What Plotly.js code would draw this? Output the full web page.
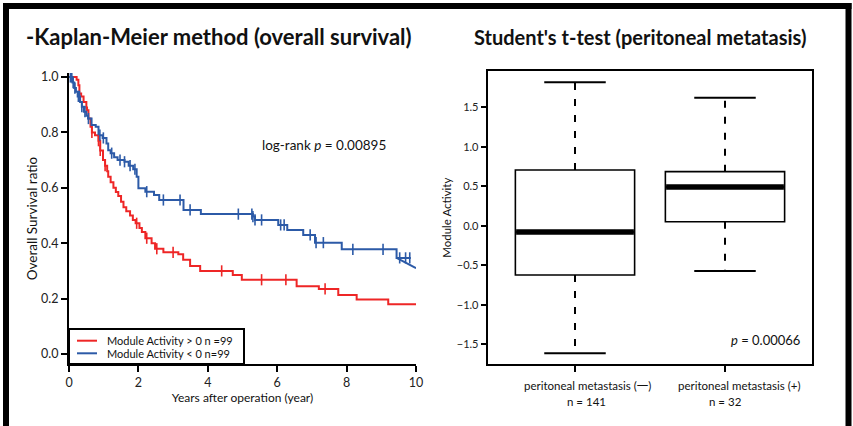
<!DOCTYPE html>
<html><head><meta charset="utf-8">
<script src="https://cdn.plot.ly/plotly-3.0.1.min.js"></script>
<style>html,body{margin:0;padding:0;background:#fff}</style>
</head><body><div id="chart" style="width:853px;height:426px"></div>
<script>
// ---------- Kaplan-Meier data (step change points) ----------
const redName = 'Module Activity > 0 n =99';
const redTime = [0, 0.22, 0.27, 0.30, 0.35, 0.42, 0.50, 0.52, 0.56, 0.62, 0.66, 0.75, 0.85, 0.90, 0.98, 1.04, 1.10, 1.13, 1.20, 1.28, 1.35, 1.42, 1.50, 1.57, 1.65, 1.76, 1.84, 1.92, 2.03, 2.10, 2.20, 2.38, 2.48, 2.72, 3.15, 3.29, 3.49, 3.78, 4.72, 4.98, 6.56, 7.20, 7.76, 8.29, 9.20, 10];
const redSurv = [1.0, 0.99, 0.97, 0.94, 0.93, 0.91, 0.89, 0.88, 0.85, 0.82, 0.80, 0.79, 0.77, 0.735, 0.70, 0.68, 0.66, 0.64, 0.62, 0.60, 0.585, 0.57, 0.55, 0.53, 0.515, 0.50, 0.484, 0.472, 0.455, 0.44, 0.418, 0.40, 0.38, 0.367, 0.36, 0.34, 0.318, 0.30, 0.285, 0.268, 0.245, 0.235, 0.213, 0.197, 0.18, 0.18];
const redCensor = [0.66, 0.85, 0.90, 1.04, 1.95, 2.24, 2.53, 3.0, 4.4, 5.55, 6.25, 7.38];

const blueName = 'Module Activity < 0 n=99';
const blueTime = [0, 0.10, 0.15, 0.20, 0.25, 0.32, 0.37, 0.43, 0.50, 0.55, 0.65, 0.77, 0.85, 0.97, 1.08, 1.13, 1.20, 1.30, 1.40, 1.60, 1.72, 1.85, 1.95, 2.00, 2.20, 2.45, 2.60, 3.30, 3.80, 5.30, 5.36, 6.03, 6.29, 6.75, 7.09, 7.86, 9.44, 9.85];
const blueSurv = [1.0, 0.98, 0.96, 0.947, 0.93, 0.91, 0.893, 0.875, 0.86, 0.85, 0.827, 0.82, 0.79, 0.78, 0.76, 0.736, 0.725, 0.71, 0.70, 0.694, 0.68, 0.667, 0.64, 0.598, 0.586, 0.574, 0.556, 0.52, 0.505, 0.496, 0.484, 0.466, 0.448, 0.43, 0.402, 0.378, 0.347, 0.347];
const blueTailTime = [9.44, 10];
const blueTailSurv = [0.347, 0.31];
const blueCensor = [0.04, 0.08, 0.12, 0.17, 0.27, 0.30, 0.37, 0.46, 0.56, 0.89, 0.99, 1.23, 1.47, 1.60, 1.76, 1.90, 2.24, 2.72, 3.2, 3.49, 4.88, 5.27, 5.30, 5.36, 5.55, 6.1, 6.2, 6.95, 7.12, 7.33, 8.18, 9.05, 9.53, 9.7, 9.82];

const kmYTicks = [0, 0.2, 0.4, 0.6, 0.8, 1.0];
const kmXTicks = [0, 2, 4, 6, 8, 10];
const logRankText = 'log-rank <i>p</i> = 0.00895';

// ---------- Box plot data ----------
const boxPos = [0, 1];
const boxLine1 = ['peritoneal metastasis (一)', 'peritoneal metastasis (+)'];
const boxLine2 = ['n = 141', 'n = 32'];
const boxLow = [-1.615, -0.573];
const boxQ1 = [-0.624, 0.05];
const boxMed = [-0.08, 0.49];
const boxQ3 = [0.705, 0.684];
const boxHigh = [1.815, 1.62];
const boxYTicks = [-1.5, -1.0, -0.5, 0.0, 0.5, 1.0, 1.5];
const tTestText = '<i>p</i> = 0.00066';

// ---------- helpers ----------
function stepAt(ts, ss, t) {
  let v = ss[0];
  for (let i = 0; i < ts.length; i++) { if (ts[i] <= t) v = ss[i]; }
  return v;
}
const W = 853, H = 426;
const px = v => v / W, py = v => (H - v) / H;
const FONT = 'Lato, "Open Sans", "Noto Sans CJK SC", sans-serif';
const RED = '#ee2626', BLUE = '#2c5aa7';

const traces = [];
traces.push({x: redTime, y: redSurv, mode: 'lines', line: {shape: 'hv', color: RED, width: 2}, name: redName, xaxis: 'x', yaxis: 'y', hoverinfo: 'skip'});
traces.push({x: blueTime, y: blueSurv, mode: 'lines', line: {shape: 'hv', color: BLUE, width: 2}, name: blueName, xaxis: 'x', yaxis: 'y', hoverinfo: 'skip'});
traces.push({x: blueTailTime, y: blueTailSurv, mode: 'lines', line: {color: BLUE, width: 2}, showlegend: false, xaxis: 'x', yaxis: 'y', hoverinfo: 'skip'});
traces.push({x: redCensor, y: redCensor.map(t => stepAt(redTime, redSurv, t)), mode: 'markers', marker: {symbol: 'line-ns-open', size: 8, color: RED, line: {color: RED, width: 1.6}}, showlegend: false, xaxis: 'x', yaxis: 'y', hoverinfo: 'skip'});
traces.push({x: blueCensor, y: blueCensor.map(t => stepAt(blueTime, blueSurv, t)), mode: 'markers', marker: {symbol: 'line-ns-open', size: 8, color: BLUE, line: {color: BLUE, width: 1.6}}, showlegend: false, xaxis: 'x', yaxis: 'y', hoverinfo: 'skip'});

// box bodies
const BOXW = 0.795, CAPW = 0.41;
traces.push({type: 'box', x: boxPos, q1: boxQ1, median: boxMed, q3: boxQ3, lowerfence: boxQ1, upperfence: boxQ3,
  width: BOXW, whiskerwidth: 0, fillcolor: '#ffffff', line: {color: '#000', width: 1.6},
  showlegend: false, xaxis: 'x2', yaxis: 'y2', hoverinfo: 'skip'});
boxPos.forEach((p, i) => {
  traces.push({x: [p, p], y: [boxQ3[i], boxHigh[i]], mode: 'lines', line: {color: '#000', width: 2, dash: '7px,9px'}, showlegend: false, xaxis: 'x2', yaxis: 'y2', hoverinfo: 'skip'});
  traces.push({x: [p, p], y: [boxQ1[i], boxLow[i]], mode: 'lines', line: {color: '#000', width: 2, dash: '7px,9px'}, showlegend: false, xaxis: 'x2', yaxis: 'y2', hoverinfo: 'skip'});
  traces.push({x: [p - CAPW / 2, p + CAPW / 2], y: [boxHigh[i], boxHigh[i]], mode: 'lines', line: {color: '#000', width: 2}, showlegend: false, xaxis: 'x2', yaxis: 'y2', hoverinfo: 'skip'});
  traces.push({x: [p - CAPW / 2, p + CAPW / 2], y: [boxLow[i], boxLow[i]], mode: 'lines', line: {color: '#000', width: 2}, showlegend: false, xaxis: 'x2', yaxis: 'y2', hoverinfo: 'skip'});
  traces.push({x: [p - BOXW / 2 + 0.005, p + BOXW / 2 - 0.005], y: [boxMed[i], boxMed[i]], mode: 'lines', line: {color: '#000', width: 5.5}, showlegend: false, xaxis: 'x2', yaxis: 'y2', hoverinfo: 'skip'});
});

const txt = (text, x, y, size, extra) => Object.assign({text: text, xref: 'paper', yref: 'paper', x: x, y: y,
  xanchor: 'center', yanchor: 'middle', showarrow: false, font: {family: FONT, size: size, color: '#111'}}, extra || {});

const annotations = [
  txt('<b>-Kaplan-Meier method (overall survival)</b>', px(219), py(36), 22),
  txt("<b>Student's t-test (peritoneal metatasis)</b>", px(640), py(37), 20),
  txt(logRankText, (323.5 - 69) / 34.7, (354 - 145) / 277, 13.5, {xref: 'x', yref: 'y'}),
  txt(tTestText, px(802), py(340), 13, {xanchor: 'right'}),
  // manual legend texts
  txt(redName, px(105), py(340.7), 11, {xanchor: 'left'}),
  txt(blueName, px(105), py(353.3), 11, {xanchor: 'left'})
];
boxPos.forEach((p, i) => {
  annotations.push(txt(boxLine1[i], p, py(385), 11.5, {xref: 'x2', xshift: i === 0 ? 12 : 14}));
  annotations.push(txt(boxLine2[i], p, py(401), 11.5, {xref: 'x2', xshift: i === 0 ? 11 : 0}));
});

const axBase = {showgrid: false, zeroline: false, showline: true, linecolor: '#000', linewidth: 2,
  ticks: 'outside', ticklen: 6, tickwidth: 2, tickcolor: '#000', automargin: false,
  tickfont: {family: FONT, size: 12.5, color: '#222'}, fixedrange: true};

const frame = {color: '#000', width: 6};
const layout = {
  width: W, height: H, margin: {l: 0, r: 0, t: 0, b: 0}, paper_bgcolor: '#fff', plot_bgcolor: 'rgba(0,0,0,0)',
  font: {family: FONT, color: '#111'},
  showlegend: false,
  xaxis: Object.assign({}, axBase, {domain: [px(69), px(416)], range: [0, 10], tickvals: kmXTicks, anchor: 'y',
    title: {text: 'Years after operation (year)', font: {family: FONT, size: 12, color: '#111'}, standoff: 5}}),
  yaxis: Object.assign({}, axBase, {domain: [py(364), py(73)], range: [(354 - 364) / 277, (354 - 73) / 277], tickvals: kmYTicks,
    ticktext: kmYTicks.map(v => v.toFixed(1)), anchor: 'x',
    title: {text: 'Overall Survival ratio', font: {family: FONT, size: 13.5, color: '#111'}, standoff: 0}}),
  xaxis2: Object.assign({}, axBase, {domain: [px(487.7), px(812.3)], range: [-0.582, 1.582], tickvals: boxPos, ticktext: ['', ''],
    mirror: true, anchor: 'y2'}),
  yaxis2: Object.assign({}, axBase, {domain: [py(364.3), py(71)], range: [-1.754, 1.958], tickvals: boxYTicks,
    ticktext: boxYTicks.map(v => (v < 0 ? '\u2212' : '') + Math.abs(v).toFixed(1)), mirror: true, anchor: 'x2', ticklen: 5,
    tickfont: {family: FONT, size: 11, color: '#222'},
    title: {text: 'Module Activity', font: {family: FONT, size: 11.5, color: '#111'}, standoff: 3}}),
  shapes: [
    {type: 'line', xref: 'paper', yref: 'paper', x0: px(6), x1: px(6), y0: 0, y1: py(3), line: frame},
    {type: 'line', xref: 'paper', yref: 'paper', x0: px(3), x1: px(851.5), y0: py(6), y1: py(6), line: frame},
    {type: 'line', xref: 'paper', yref: 'paper', x0: px(848.5), x1: px(848.5), y0: 0, y1: py(3), line: frame},
    // manual legend box and swatches
    {type: 'rect', xref: 'paper', yref: 'paper', x0: px(69), x1: px(244), y0: py(364), y1: py(329), line: {color: '#000', width: 2}, fillcolor: '#fff', layer: 'above'},
    {type: 'line', xref: 'paper', yref: 'paper', x0: px(77), x1: px(97), y0: py(340.7), y1: py(340.7), line: {color: RED, width: 2}},
    {type: 'line', xref: 'paper', yref: 'paper', x0: px(77), x1: px(97), y0: py(353.3), y1: py(353.3), line: {color: BLUE, width: 2}}
  ],
  annotations: annotations
};

Plotly.newPlot('chart', traces, layout, {staticPlot: true, displayModeBar: false});
</script></body></html>
